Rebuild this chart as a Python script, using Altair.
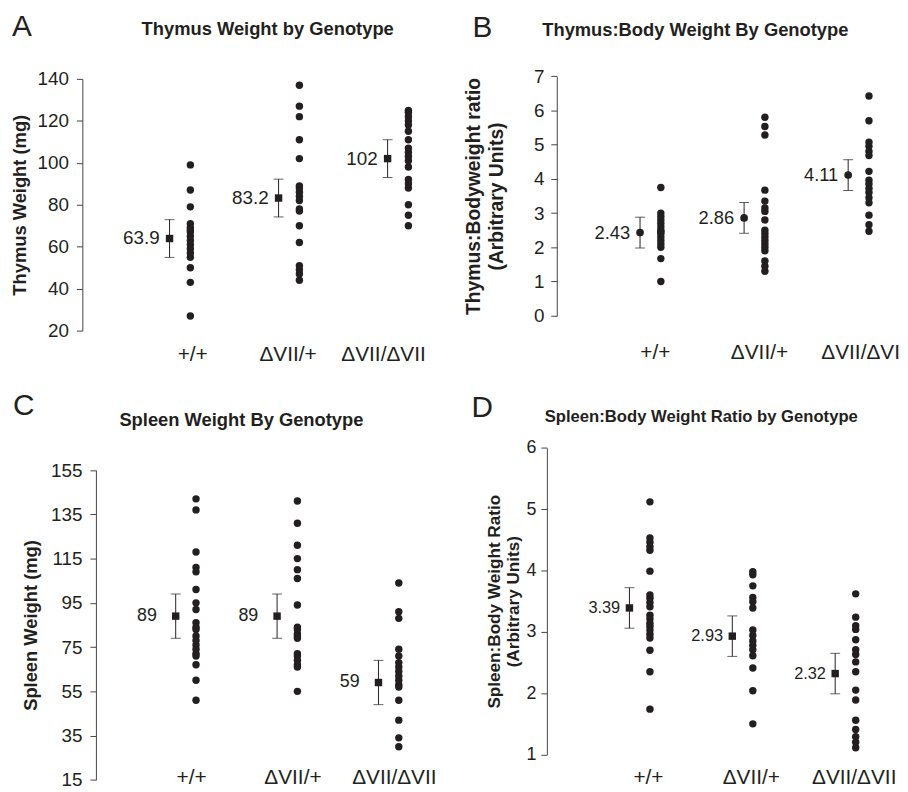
import altair as alt
import pandas as pd

FONT = "Liberation Sans"
INK = "#231f20"
AXIS_INK = "#444444"

genotypes = ["+/+", "ΔVII/+", "ΔVII/ΔVII"]

# Panel A: thymus weight (mg)
thymus_wt = [99, 87, 79, 71, 69, 68, 67, 65, 63, 61, 59, 57, 55, 50, 43, 27]
thymus_het = [137, 127, 122, 111, 102, 89, 88, 86, 84, 82, 78, 77, 70, 62, 51, 49, 47, 44]
thymus_hom = [125, 124, 122, 120, 118, 115, 111, 107, 105, 103, 101, 98, 92, 90, 88, 80, 75, 70]
thymus_mean = [63.9, 83.2, 102]
thymus_sem = [9, 9, 9]

# Panel B: thymus:body weight ratio
tbr_wt = [3.75, 3.0, 2.9, 2.8, 2.7, 2.6, 2.5, 2.45, 2.4, 2.3, 2.2, 2.1, 2.0, 1.67, 1.0]
tbr_het = [5.8, 5.53, 5.28, 3.67, 3.35, 3.15, 3.05, 2.8, 2.5, 2.4, 2.3, 2.2, 2.1, 2.0, 1.9, 1.6, 1.45, 1.3]
tbr_hom = [6.42, 5.7, 5.07, 4.95, 4.8, 4.68, 4.22, 3.96, 3.85, 3.72, 3.6, 3.45, 3.3, 2.94, 2.66, 2.47]
tbr_mean = [2.43, 2.86, 4.11]
tbr_sem = [0.45, 0.45, 0.45]

# Panel C: spleen weight (mg)
spleen_wt = [142, 137, 118, 111, 109, 101, 95, 92, 86, 84, 83, 80, 78, 76, 74, 72, 71, 67, 60, 51]
spleen_het = [141, 131, 121, 115, 110, 106, 94, 84, 83, 81, 80, 79, 72, 71, 69, 67, 66, 55]
spleen_hom = [104, 91, 88, 74, 71, 68, 66, 64, 62, 60, 58, 57, 51, 42, 34, 30]
spleen_mean = [89, 89, 59]
spleen_sem = [10, 10, 10]

# Panel D: spleen:body weight ratio
sbr_wt = [5.12, 4.53, 4.46, 4.39, 4.33, 3.99, 3.6, 3.55, 3.48, 3.41, 3.27, 3.21, 3.14,
          3.09, 3.03, 2.96, 2.9, 2.7, 2.35, 1.74]
sbr_het = [3.98, 3.93, 3.75, 3.56, 3.49, 3.39, 3.03, 2.94, 2.85, 2.78, 2.71, 2.61, 2.41, 2.04, 1.5]
sbr_hom = [3.62, 3.24, 3.1, 3.04, 2.87, 2.71, 2.63, 2.51, 2.35, 2.05, 1.89, 1.56, 1.41, 1.29, 1.2, 1.11]
sbr_mean = [3.39, 2.93, 2.32]
sbr_sem = [0.33, 0.33, 0.33]

W, H = 900, 784


def panel(series, means, sems, c):
    pts = pd.DataFrame({
        "genotype": [g for g, vals in zip(genotypes, series) for _ in vals],
        "value": [v for vals in series for v in vals],
    })
    stats = pd.DataFrame({
        "genotype": genotypes,
        "mean": means,
        "lo": [m - s for m, s in zip(means, sems)],
        "hi": [m + s for m, s in zip(means, sems)],
    })
    xs = alt.Scale(type="point", domain=genotypes, range=c["xrange"], padding=0)
    ys = alt.Scale(domain=c["ydomain"], range=c["yrange"], nice=False, zero=False)
    x_axis = alt.Axis(
        orient="bottom", offset=c["xoff"], domain=False, ticks=False, tickSize=0,
        labelPadding=0, labelBaseline="alphabetic", labelAlign=c["lalign"],
        labelOffset=c["loff"], labelAngle=0, labelFontSize=21, labelFont=FONT,
        labelColor=INK, title=None, grid=False,
    )
    y_axis = alt.Axis(
        orient="left", offset=c["yoff"], values=c["ticks"], grid=False,
        domainColor=AXIS_INK, tickColor=AXIS_INK, tickSize=6, domainWidth=1,
        labelFontSize=c["lfs"], labelFont=FONT, labelColor=INK,
        labelPadding=c["lpad"], labelFlush=False, labelOverlap=False,
        title=c["ytitle"], titleFont=FONT, titleFontSize=c["tfs"],
        titleFontWeight="bold", titleColor=INK, titlePadding=c["tpad"],
        titleLineHeight=c["tlh"],
    )
    X = lambda: alt.X("genotype:N", scale=xs, axis=x_axis, sort=genotypes)
    Y = lambda f: alt.Y(f, scale=ys, axis=y_axis)
    xo = c["mxo"]
    dots = alt.Chart(pts).mark_circle(size=56, color=INK, opacity=1).encode(
        x=X(), y=Y("value:Q"),
    )
    bar = alt.Chart(stats).mark_rule(color=INK, strokeWidth=1, xOffset=xo).encode(
        x=X(), y=Y("lo:Q"), y2="hi:Q",
    )
    cap_hi = alt.Chart(stats).mark_tick(color=INK, size=10, thickness=1, orient="horizontal", xOffset=xo).encode(
        x=X(), y=Y("hi:Q"),
    )
    cap_lo = alt.Chart(stats).mark_tick(color=INK, size=10, thickness=1, orient="horizontal", xOffset=xo).encode(
        x=X(), y=Y("lo:Q"),
    )
    if c["mshape"] == "square":
        mean_mark = alt.Chart(stats).mark_square(size=56, color=INK, opacity=1, xOffset=xo)
    else:
        mean_mark = alt.Chart(stats).mark_circle(size=60, color=INK, opacity=1, xOffset=xo)
    mean_pt = mean_mark.encode(x=X(), y=Y("mean:Q"))
    mean_lbl = alt.Chart(stats).mark_text(
        align="right", baseline="middle", dx=xo + c["mdx"], font=FONT,
        fontSize=c["mfs"], color=INK,
    ).encode(
        x=X(), y=Y("mean:Q"),
        text=alt.Text("mean:Q", format=".3~g"),
    )
    one = pd.DataFrame({"k": [0]})
    title = alt.Chart(one).mark_text(
        text=c["title"], align="center", baseline="alphabetic", font=FONT,
        fontSize=c["ptfs"], fontWeight="bold", color=INK,
    ).encode(x=alt.value(c["title_xy"][0]), y=alt.value(c["title_xy"][1]))
    letter = alt.Chart(one).mark_text(
        text=c["letter"], align="left", baseline="alphabetic", font=FONT,
        fontSize=30, color=INK,
    ).encode(x=alt.value(c["letter_xy"][0]), y=alt.value(c["letter_xy"][1]))
    return alt.layer(dots, bar, cap_hi, cap_lo, mean_pt, mean_lbl, title, letter)


pA = panel([thymus_wt, thymus_het, thymus_hom], thymus_mean, thymus_sem, dict(
    xrange=[184, 404], ydomain=[20, 140], yrange=[322, 68], ticks=[20, 40, 60, 80, 100, 120, 140],
    xoff=352 - H, lalign="right", loff=17, yoff=-75, lfs=19, lpad=8,
    ytitle="Thymus Weight (mg)", tfs=18.5, tpad=8, tlh=22, mxo=-21, mdx=-10, mfs=19,
    mshape="square", title="Thymus Weight by Genotype", ptfs=18.5, title_xy=(262, 24),
    letter="A", letter_xy=(4, 25)))

pB = panel([tbr_wt, tbr_het, tbr_hom], tbr_mean, tbr_sem, dict(
    xrange=[658.7, 868.7], ydomain=[0, 7], yrange=[307, 65.3], ticks=[0, 1, 2, 3, 4, 5, 6, 7],
    xoff=350 - H, lalign="center", loff=-6, yoff=-553.7, lfs=19, lpad=7,
    ytitle=["Thymus:Bodyweight ratio", "(Arbitrary Units)"], tfs=19.5, tpad=27, tlh=23,
    mxo=-21, mdx=-10, mfs=18.5, mshape="circle",
    title="Thymus:Body Weight By Genotype", ptfs=18.5, title_xy=(693.5, 24.3),
    letter="B", letter_xy=(468.7, 25.3)))

pC = panel([spleen_wt, spleen_het, spleen_hom], spleen_mean, spleen_sem, dict(
    xrange=[189.7, 394.3], ydomain=[15, 155], yrange=[775.3, 462.7],
    ticks=[15, 35, 55, 75, 95, 115, 135, 155],
    xoff=779.3 - H, lalign="center", loff=-5, yoff=-88.7, lfs=19, lpad=8,
    ytitle="Spleen Weight (mg)", tfs=18.5, tpad=10, tlh=22, mxo=-20.5, mdx=-19, mfs=18,
    mshape="square", title="Spleen Weight By Genotype", ptfs=18.5, title_xy=(235.5, 418.7),
    letter="C", letter_xy=(5, 407.5)))

pD = panel([sbr_wt, sbr_het, sbr_hom], sbr_mean, sbr_sem, dict(
    xrange=[647.7, 855.3], ydomain=[1, 6], yrange=[749.7, 440.3], ticks=[1, 2, 3, 4, 5, 6],
    xoff=779.3 - H, lalign="center", loff=-2, yoff=-543.7, lfs=18, lpad=5,
    ytitle=["Spleen:Body Weight Ratio", "(Arbitrary Units)"], tfs=17.3, tpad=4, tlh=19,
    mxo=-20.7, mdx=-9.3, mfs=16.5, mshape="square",
    title="Spleen:Body Weight Ratio by Genotype", ptfs=16.8, title_xy=(699.5, 414.7),
    letter="D", letter_xy=(467.7, 408.7)))

chart = alt.layer(pA, pB, pC, pD).resolve_scale(
    x="independent", y="independent"
).properties(
    width=W, height=H, padding=0, autosize=alt.AutoSizeParams(type="none"),
    background="white",
).configure_view(stroke=None)

chart.save("out.html", embed_options={"renderer": "svg", "actions": False})
